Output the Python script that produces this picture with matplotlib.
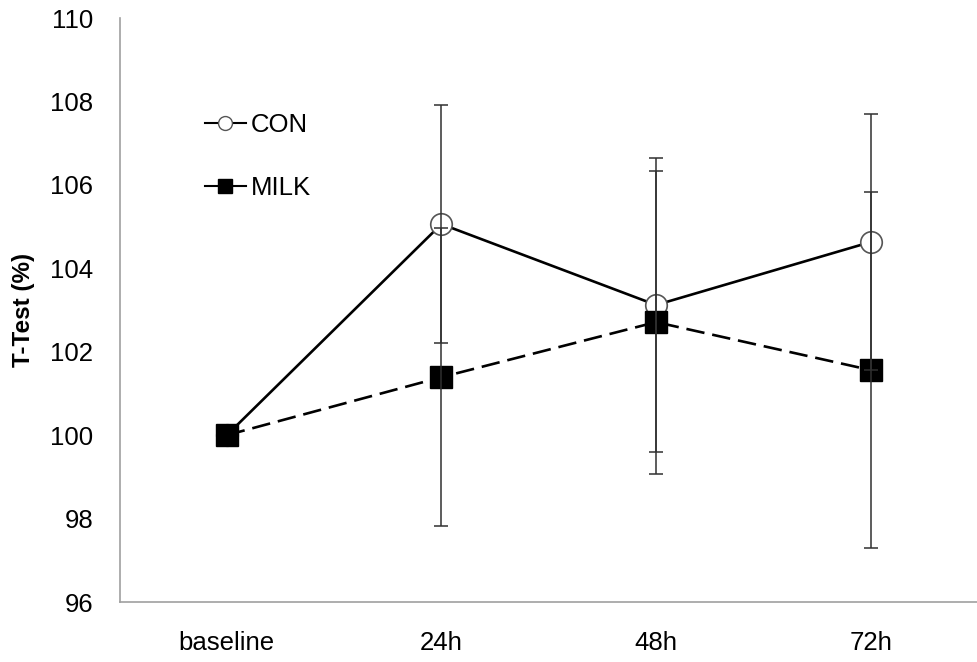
import matplotlib
matplotlib.use("Agg")
import matplotlib.pyplot as plt
from matplotlib.lines import Line2D
import numpy as np

plt.rcParams['font.family'] = ['Liberation Sans', 'DejaVu Sans']

categories = ["baseline", "24h", "48h", "72h"]
con_mean = [100.0, 105.06, 103.12, 104.63]
con_err = [0.0, 2.85, 3.53, 3.07]
milk_mean = [100.0, 101.39, 102.71, 101.56]
milk_err = [0.0, 3.57, 3.63, 4.26]
y_ticks = [96, 98, 100, 102, 104, 106, 108, 110]

fig = plt.figure(figsize=(9.78, 6.62), dpi=100)
ax = fig.add_axes([0.1222, 0.0906, 0.8778, 0.8822])

x = np.arange(len(categories))

# error bars (baseline is the reference, no spread)
ax.errorbar(x[1:], con_mean[1:], yerr=con_err[1:], fmt='none', ecolor='#303030',
            elinewidth=1.1, capsize=5, capthick=1.1, zorder=5)
ax.errorbar(x[1:], milk_mean[1:], yerr=milk_err[1:], fmt='none', ecolor='#303030',
            elinewidth=1.1, capsize=5, capthick=1.1, zorder=5)

ax.plot(x, con_mean, color='black', lw=1.9, ls='-', marker='o', ms=15.5,
        mfc='white', mec='#555555', mew=1.2, zorder=3)
ax.plot(x, milk_mean, color='black', lw=1.9, ls=(0, (7, 3)), marker='s', ms=15.5,
        mfc='black', mec='black', zorder=4)

ax.set_xlim(-0.5, 3.5)
ax.set_ylim(96, 110)
ax.set_yticks(y_ticks)
ax.set_yticklabels([str(v) for v in y_ticks])
ax.set_xticks(x)
ax.set_xticklabels(categories)
ax.tick_params(axis='both', length=0, labelsize=18.5)
ax.tick_params(axis='y', pad=19)
ax.tick_params(axis='x', pad=21)

for side in ['top', 'right']:
    ax.spines[side].set_visible(False)
for side in ['left', 'bottom']:
    ax.spines[side].set_color('#a0a0a0')
    ax.spines[side].set_linewidth(1.2)

ax.set_ylabel("T-Test (%)", fontsize=17.5, fontweight='bold', labelpad=11)

handles = [
    Line2D([], [], color='black', lw=1.5, marker='o', ms=10, mfc='white', mec='#555555'),
    Line2D([], [], color='black', lw=1.5, marker='s', ms=10, mfc='black', mec='black'),
]
ax.legend(handles, ["CON", "MILK"], loc='upper left', bbox_to_anchor=(0.099, 0.838),
          frameon=False, fontsize=18.5, handlelength=1.6, handletextpad=0.2,
          labelspacing=1.55, borderpad=0, borderaxespad=0)

fig.savefig("out.png", dpi=100)
